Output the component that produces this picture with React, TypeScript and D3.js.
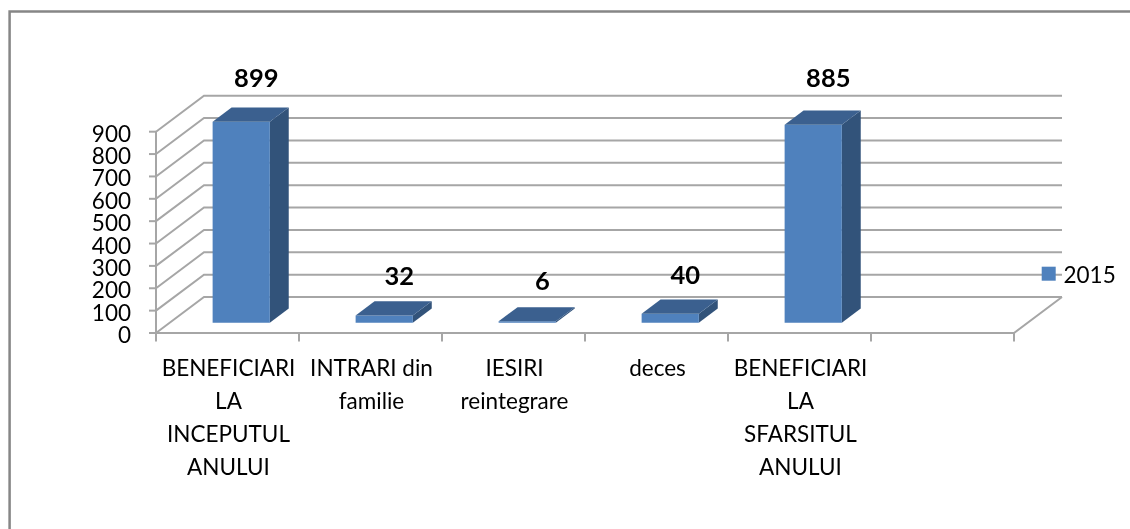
import React, { useEffect, useRef } from 'react';
import * as d3 from 'd3';

const categories = ['b1', 'intrari', 'iesiri', 'deces', 'b2', ''];
const categoryLines = [
  ['BENEFICIARI', 'LA', 'INCEPUTUL', 'ANULUI'],
  ['INTRARI din', 'familie'],
  ['IESIRI', 'reintegrare'],
  ['deces'],
  ['BENEFICIARI', 'LA', 'SFARSITUL', 'ANULUI'],
  [],
];
const values = [899, 32, 6, 40, 885];
const yTicks = [0, 100, 200, 300, 400, 500, 600, 700, 800, 900];
const seriesName = '2015';

const W = 1130;
const H = 529;
const FONT = 'Lato, "Open Sans", sans-serif';
// the labels were placed by hand in the original, so the gap above each bar differs
const labelLift = [20, 16, 17, 16, 24];

export default function App() {
  const svgRef = useRef<SVGSVGElement>(null);

  useEffect(() => {
    const root = d3.select(svgRef.current);
    root.selectAll('*').remove();

    // the reference is a slightly soft screenshot
    root.append('defs')
      .append('filter')
      .attr('id', 'soft')
      .attr('filterUnits', 'userSpaceOnUse')
      .attr('x', 0).attr('y', 0)
      .attr('width', W).attr('height', H)
      .append('feGaussianBlur')
      .attr('stdDeviation', 0.45);
    const svg = root.append('g').attr('filter', 'url(#soft)');

    const x = d3.scaleBand().domain(categories).range([156, 1014]);
    const y = d3.scaleLinear().domain([0, 900]).range([333, 131.7]);
    const depthX = 48;
    const depthY = 36;
    // oblique projection: t = 0 is the front of the floor, t = 1 the back wall
    const px = (xv: number, t: number) => xv + depthX * t;
    const py = (v: number, t: number) => y(v) - depthY * t;
    const left = x.range()[0];
    const right = x.range()[1];
    const line = d3.line();
    const gray = '#a6a6a6';

    // frame
    svg.append('path')
      .attr('d', `M9.6,${H + 4}V11.4H${W + 4}`)
      .attr('fill', 'none')
      .attr('stroke', '#868686')
      .attr('stroke-width', 2.5);

    // side wall and back wall gridlines
    yTicks.forEach((t) => {
      svg.append('path')
        .attr('d', line([[left, y(t)], [px(left, 1), py(t, 1)], [px(right, 1), py(t, 1)]]))
        .attr('fill', 'none')
        .attr('stroke', gray)
        .attr('stroke-width', 2);
    });

    // floor edges and axes
    svg.append('path')
      .attr('d', line([[px(right, 1), py(0, 1)], [right, y(0)], [left, y(0)], [left, y(900)]]))
      .attr('fill', 'none')
      .attr('stroke', gray)
      .attr('stroke-width', 2);

    yTicks.forEach((t) => {
      svg.append('line')
        .attr('x1', left - 7).attr('x2', left)
        .attr('y1', y(t)).attr('y2', y(t))
        .attr('stroke', gray).attr('stroke-width', 2);
      svg.append('text')
        .attr('x', left - 25)
        .attr('y', y(t) + 10)
        .attr('text-anchor', 'end')
        .attr('font-family', FONT)
        .attr('font-size', 22.5)
        .attr('fill', '#000')
        .text(t);
    });

    const edges = categories.map((c) => x(c) as number).concat(right);
    edges.forEach((e) => {
      svg.append('line')
        .attr('x1', e).attr('x2', e)
        .attr('y1', y(0)).attr('y2', y(0) + 8.5)
        .attr('stroke', gray).attr('stroke-width', 2);
    });

    // bars
    const t0 = 0.286;
    const t1 = 0.68;
    const barW = x.bandwidth() * 0.4;
    values.forEach((v, i) => {
      const xa = (x(categories[i]) as number) + (x.bandwidth() - barW) / 2;
      const xb = xa + barW;
      const g = svg.append('g');
      const face = (pts: [number, number][], fill: string) =>
        g.append('path').attr('d', line(pts) + 'Z').attr('fill', fill);
      face([[px(xb, t0), py(0, t0)], [px(xb, t1), py(0, t1)], [px(xb, t1), py(v, t1)], [px(xb, t0), py(v, t0)]], '#31527a');
      face([[px(xa, t0), py(0, t0)], [px(xb, t0), py(0, t0)], [px(xb, t0), py(v, t0)], [px(xa, t0), py(v, t0)]], '#4f81bd');
      face([[px(xa, t0), py(v, t0)], [px(xb, t0), py(v, t0)], [px(xb, t1), py(v, t1)], [px(xa, t1), py(v, t1)]], '#3b618f');

      svg.append('text')
        .attr('x', px((xa + xb) / 2, 0.6))
        .attr('y', py(v, t1) - labelLift[i])
        .attr('text-anchor', 'middle')
        .attr('font-family', FONT)
        .attr('font-weight', 700)
        .attr('font-size', 25.5)
        .attr('fill', '#000')
        .text(v);
    });

    // category labels
    categories.forEach((c, i) => {
      categoryLines[i].forEach((l, j) => {
        svg.append('text')
          .attr('x', (x(c) as number) + x.bandwidth() / 2 + 1)
          .attr('y', 376 + j * 33)
          .attr('text-anchor', 'middle')
          .attr('font-family', FONT)
          .attr('font-size', 22.5)
          .attr('fill', '#000')
          .text(l);
      });
    });

    // legend
    svg.append('rect')
      .attr('x', 1041.7).attr('y', 266.7)
      .attr('width', 14).attr('height', 14)
      .attr('fill', '#4f81bd');
    svg.append('text')
      .attr('x', 1063.5).attr('y', 283)
      .attr('font-family', FONT)
      .attr('font-size', 22.5)
      .attr('fill', '#000')
      .text(seriesName);
  }, []);

  return (
    <svg
      ref={svgRef}
      width={W}
      height={H}
      style={{ position: 'absolute', left: 0, top: 0, background: '#fff' }}
    />
  );
}
